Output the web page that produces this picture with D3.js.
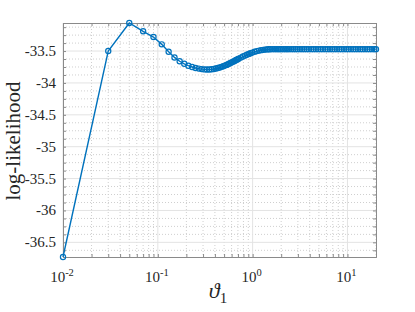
<!DOCTYPE html>
<html>
<head>
<meta charset="utf-8">
<script src="https://cdn.jsdelivr.net/npm/d3@7"></script>
<style>
  body { margin: 0; background: #fff; }
  svg { display: block; }
</style>
</head>
<body>
<div id="canvas"></div>
<script>
// theta_1 grid points
let theta = [0.01, 0.03, 0.05, 0.07, 0.09, 0.11, 0.13, 0.15, 0.17, 0.19,
  0.21, 0.23, 0.25, 0.27, 0.29, 0.31, 0.33, 0.35, 0.37, 0.39,
  0.41, 0.43, 0.45, 0.47, 0.49, 0.51, 0.53, 0.55, 0.57, 0.59,
  0.61, 0.63, 0.65, 0.67, 0.69, 0.71, 0.75, 0.79, 0.83, 0.87,
  0.91, 0.95, 0.99, 1.05, 1.11, 1.17, 1.23, 1.29, 1.35, 1.41,
  1.47, 1.53, 1.61, 1.69, 1.77, 1.85, 1.93, 2.01, 2.11, 2.21,
  2.31, 2.41, 2.55, 2.69, 2.83, 2.97, 3.15, 3.33, 3.51, 3.71,
  3.91, 4.15, 4.39, 4.65, 4.91, 5.21, 5.51, 5.85, 6.19, 6.55,
  6.93, 7.33, 7.75, 8.21, 8.69, 9.19, 9.73, 10.29, 10.89, 11.53,
  12.21, 12.91, 13.67, 14.47, 15.31, 16.21, 17.15, 18.15, 19.21, 19.99]

let logL = [-36.73, -33.50, -33.06, -33.19, -33.28, -33.395, -33.51, -33.60, -33.66, -33.70,
  -33.73, -33.75, -33.765, -33.775, -33.783, -33.788, -33.79, -33.789, -33.786, -33.781,
  -33.774, -33.766, -33.757, -33.748, -33.738, -33.728, -33.717, -33.706, -33.695, -33.684,
  -33.673, -33.662, -33.651, -33.641, -33.631, -33.621, -33.603, -33.586, -33.571, -33.557,
  -33.545, -33.534, -33.524, -33.511, -33.501, -33.493, -33.486, -33.481, -33.477, -33.474,
  -33.472, -33.471, -33.47, -33.47, -33.47, -33.47, -33.47, -33.47, -33.47, -33.47,
  -33.47, -33.47, -33.47, -33.47, -33.47, -33.47, -33.47, -33.47, -33.47, -33.47,
  -33.47, -33.47, -33.47, -33.47, -33.47, -33.47, -33.47, -33.47, -33.47, -33.47,
  -33.47, -33.47, -33.47, -33.47, -33.47, -33.47, -33.47, -33.47, -33.47, -33.47,
  -33.47, -33.47, -33.47, -33.47, -33.47, -33.47, -33.47, -33.47, -33.47, -33.47]

let yTicks = [-36.5, -36, -35.5, -35, -34.5, -34, -33.5]
let xDecades = [0.01, 0.1, 1, 10]
let xDecadeExp = ['-2', '-1', '0', '1']

let W = 415, H = 312
let mLeft = 63, mRight = 376, mTop = 23, mBottom = 257
let serif = '"Liberation Serif", "Times New Roman", Times, serif'

let svg = d3.select('#canvas').append('svg')
    .attr('width', W).attr('height', H)

let xScale = d3.scaleLog()
    .domain([0.01, 20])
    .range([mLeft, mRight])
let yScale = d3.scaleLinear()
    .domain([-36.73, -33.06])
    .range([mBottom, mTop])

// minor values
let xMinor = xScale.ticks().filter(d => xDecades.indexOf(d) < 0)
let yMinor = d3.range(-36.625, -33.06, 0.125).filter(d => yTicks.indexOf(+d.toFixed(3)) < 0)

// grid: minor dotted, major solid
let grid = svg.append('g')
grid.selectAll('.xminor').data(xMinor).enter().append('line')
    .attr('x1', d => xScale(d)).attr('x2', d => xScale(d))
    .attr('y1', mTop).attr('y2', mBottom)
    .style('stroke', '#cfcfcf').style('stroke-dasharray', '1,2')
grid.selectAll('.yminor').data(yMinor).enter().append('line')
    .attr('x1', mLeft).attr('x2', mRight)
    .attr('y1', d => yScale(d)).attr('y2', d => yScale(d))
    .style('stroke', '#cfcfcf').style('stroke-dasharray', '1,2')
grid.selectAll('.xmajor').data(xDecades).enter().append('line')
    .attr('x1', d => xScale(d)).attr('x2', d => xScale(d))
    .attr('y1', mTop).attr('y2', mBottom)
    .style('stroke', '#e3e3e3')
grid.selectAll('.ymajor').data(yTicks).enter().append('line')
    .attr('x1', mLeft).attr('x2', mRight)
    .attr('y1', d => yScale(d)).attr('y2', d => yScale(d))
    .style('stroke', '#e3e3e3')

// axes (ticks inward, box on all sides)
let xAxis = d3.axisBottom(xScale).tickValues(xScale.ticks()).tickSize(-3).tickFormat('')
let xAxisTop = d3.axisTop(xScale).tickValues(xScale.ticks()).tickSize(-3).tickFormat('')
let yAxis = d3.axisLeft(yScale).tickValues(yTicks.concat(yMinor)).tickSize(-3).tickFormat('')
let yAxisRight = d3.axisRight(yScale).tickValues(yTicks.concat(yMinor)).tickSize(-3).tickFormat('')

svg.append('g').attr('class', 'axis').attr('transform', `translate(0, ${mBottom})`).call(xAxis)
svg.append('g').attr('class', 'axis').attr('transform', `translate(0, ${mTop})`).call(xAxisTop)
svg.append('g').attr('class', 'axis').attr('transform', `translate(${mLeft}, 0)`).call(yAxis)
svg.append('g').attr('class', 'axis').attr('transform', `translate(${mRight}, 0)`).call(yAxisRight)
svg.selectAll('.axis path').style('stroke', '#8a8a8a').style('stroke-width', 1)
svg.selectAll('.axis line').style('stroke', '#8a8a8a')

// tick labels
svg.selectAll('.ylab').data(yTicks).enter().append('text')
    .attr('x', 56).attr('y', d => yScale(d) + 5)
    .attr('text-anchor', 'end')
    .style('font-family', serif).style('font-size', '15px').style('fill', '#262626')
    .text(d => d)

let xl = svg.selectAll('.xlab').data(xDecades).enter().append('text')
    .attr('x', d => xScale(d) - 1).attr('y', 282)
    .attr('text-anchor', 'middle')
    .style('font-family', serif).style('font-size', '15px').style('fill', '#262626')
xl.append('tspan').text('10')
xl.append('tspan').attr('dy', -6).style('font-size', '10.5px').text((d, i) => xDecadeExp[i])

// axis titles
svg.append('text')
    .attr('transform', 'translate(20, 141) rotate(-90)')
    .attr('text-anchor', 'middle')
    .style('font-family', serif).style('font-size', '21px').style('fill', '#262626')
    .text('log-likelihood')

let xt = svg.append('text')
    .attr('x', 218).attr('y', 298)
    .attr('text-anchor', 'middle')
    .style('font-family', serif).style('fill', '#262626')
xt.append('tspan').style('font-size', '22px').style('font-style', 'italic').text('ϑ')
xt.append('tspan').attr('dy', 5).style('font-size', '15px').text('1')

// data line and markers
let pts = theta.map((t, i) => [t, logL[i]])
let line = d3.line().x(d => xScale(d[0])).y(d => yScale(d[1]))

svg.append('path')
    .datum(pts)
    .attr('d', line)
    .style('fill', 'none')
    .style('stroke', '#0072BD')
    .style('stroke-width', 1.4)

svg.selectAll('circle')
    .data(pts)
    .enter()
    .append('circle')
    .attr('cx', d => xScale(d[0]))
    .attr('cy', d => yScale(d[1]))
    .attr('r', 2.6)
    .style('fill', 'none')
    .style('stroke', '#0072BD')
    .style('stroke-width', 1.2)
</script>
</body>
</html>
